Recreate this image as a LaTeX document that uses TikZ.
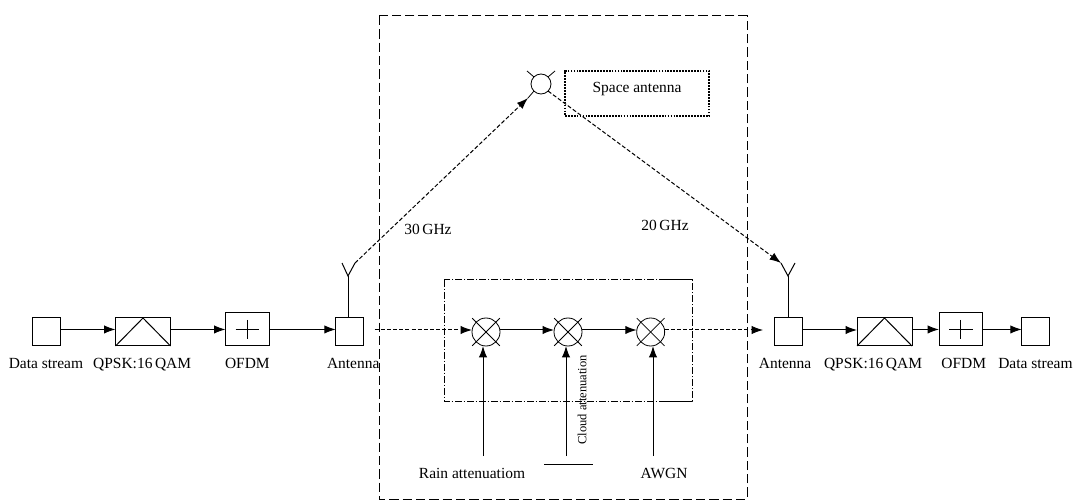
\documentclass[tikz,border=0pt]{standalone}
\usepackage{fontspec}
\setmainfont{Liberation Serif}
\usetikzlibrary{positioning,arrows.meta}

\tikzset{
  blockbox/.style={draw, line width=0.75pt, inner sep=0pt, outer sep=0pt, minimum width=#1, minimum height=21pt},
  blockbox/.default=21pt,
  ofdmbox/.style={draw, line width=0.75pt, inner sep=0pt, outer sep=0pt, minimum width=32.8pt, minimum height=24.8pt},
  mixer/.style={draw, circle, line width=0.6pt, inner sep=0pt, outer sep=0pt, minimum size=21pt},
  caption/.style={inner sep=0pt, font=\fontsize{11.6}{14}\selectfont, text height=8pt, text depth=2pt},
  sigline/.style={line width=0.75pt},
  dashline/.style={line width=0.75pt, dash pattern=on 3pt off 1.6pt},
  whisker/.style={line width=0.6pt, shorten <=-4.2pt, shorten >=-4.2pt}
}

\begin{document}
\begin{tikzpicture}[x=0.75pt, y=-0.75pt, >={Latex[length=8.5pt,width=6.2pt]}, node distance=40pt]
      \useasboundingbox (0,0) rectangle (1075,502);

      % left chain
      \node[blockbox] (streamL) at (46.5,332) {};
      \node[blockbox=41.25pt, right=41.25pt of streamL] (qpskL) {};
      \node[ofdmbox, right=41.25pt of qpskL.south east, anchor=south west] (ofdmL) {};
      \node[blockbox, right=49.9pt of ofdmL.south east, anchor=south west] (antL) {};

      % right chain
      \node[blockbox] (antR) at (788,332) {};
      \node[blockbox=41.25pt, right=41.25pt of antR] (qpskR) {};
      \node[ofdmbox, right=20.25pt of qpskR.south east, anchor=south west] (ofdmR) {};
      \node[blockbox, right=29.25pt of ofdmR.south east, anchor=south west] (streamR) {};

      % channel
      \node[mixer] (mixA) at (486,332) {};
      \node[mixer, right=40.5pt of mixA] (mixB) {};
      \node[mixer, right=41pt of mixB] (mixC) {};
      \node[draw, line width=0.9pt, dash pattern=on 1.3pt off 0.9pt, minimum width=108pt, minimum height=33.75pt, inner sep=0pt, outer sep=0pt] (spaceBox) at (637,93.5) {};
      \node[mixer, minimum size=15pt] (spaceAnt) at (541,84) {};

      % labels
      \node[caption, below=8.8pt of streamL, xshift=-0.4pt] (txtStreamL) {Data stream};
      \node[caption, below=8.8pt of qpskL, xshift=-0.6pt] (txtQpskL) {QPSK:16\,QAM};
      \node[caption, below=8.8pt of ofdmL] (txtOfdmL) {OFDM};
      \node[caption, below=8.8pt of antL, xshift=2.6pt] (txtAntL) {Antenna};
      \node[caption, below=8.8pt of antR, xshift=-2.2pt] (txtAntR) {Antenna};
      \node[caption, below=8.8pt of qpskR, xshift=-8.6pt] (txtQpskR) {QPSK:16\,QAM};
      \node[caption, below=8.8pt of ofdmR, xshift=2.2pt] (txtOfdmR) {OFDM};
      \node[caption, below=8.8pt of streamR, xshift=-0.2pt] (txtStreamR) {Data stream};
      \node[caption] (txtSpace) at (637,89) {Space antenna};
      \node[caption] (txtUp) at (428,231) {30\,GHz};
      \node[caption] (txtDown) at (665,227) {20\,GHz};
      \node[caption] (txtRain) at (472,474) {Rain attenuatiom};
      \node[caption] (txtAwgn) at (664,474) {AWGN};
      \node[inner sep=0pt, rotate=90, font=\fontsize{9.4}{11}\selectfont] (txtCloud) at (582,400) {Cloud attenuation};

      % outer frames
      \draw[line width=0.75pt, dash pattern=on 7pt off 3pt] (379,16) rectangle (747,499);
      \draw[line width=0.75pt, dash pattern=on 5pt off 1.5pt on 1pt off 1.5pt] (444,280) rectangle (692,401);
      \draw[line width=0.75pt] (665,280) -- (692,280);
      \draw[line width=0.75pt] (665,401) -- (692,401);

      % free ends
      \coordinate (yLroot) at (348,276);
      \coordinate (yLa) at (342,263);
      \coordinate (yLb) at (355,263);
      \coordinate (yRroot) at (788,276);
      \coordinate (yRa) at (781,263);
      \coordinate (yRb) at (795,263);
      \coordinate (tipUp) at (528,98);
      \coordinate (rainEnd) at (483,456);
      \coordinate (cloudEnd) at (566,456);
      \coordinate (awgnEnd) at (653,456);
      \coordinate (barA) at (544,464);
      \coordinate (barB) at (593,464);
      \coordinate (spaceA) at (527,71);
      \coordinate (spaceB) at (555,71);

      % block symbols
      \draw[sigline] (qpskL.south west) -- (qpskL.north) -- (qpskL.south east);
      \draw[sigline] (qpskR.south west) -- (qpskR.north) -- (qpskR.south east);
      \draw[sigline, shorten <=7.5pt, shorten >=7.5pt] (ofdmL.west) -- (ofdmL.east);
      \draw[sigline, shorten <=5.2pt, shorten >=5.2pt] (ofdmL.north) -- (ofdmL.south);
      \draw[sigline, shorten <=7.5pt, shorten >=7.5pt] (ofdmR.west) -- (ofdmR.east);
      \draw[sigline, shorten <=5.2pt, shorten >=5.2pt] (ofdmR.north) -- (ofdmR.south);
      \draw[whisker] (mixA.north west) -- (mixA.south east);
      \draw[whisker] (mixA.north east) -- (mixA.south west);
      \draw[whisker] (mixB.north west) -- (mixB.south east);
      \draw[whisker] (mixB.north east) -- (mixB.south west);
      \draw[whisker] (mixC.north west) -- (mixC.south east);
      \draw[whisker] (mixC.north east) -- (mixC.south west);
      \draw[line width=0.6pt] (spaceAnt.north west) -- (spaceA);
      \draw[line width=0.6pt] (spaceAnt.north east) -- (spaceB);

      % antennas
      \draw[sigline] (antL.north -| yLroot) -- (yLroot);
      \draw[sigline] (yLa) -- (yLroot) -- (yLb);
      \draw[sigline] (antR.north) -- (yRroot);
      \draw[sigline] (yRa) -- (yRroot) -- (yRb);

      % signal path
      \draw[sigline, ->] ([yshift=1.9pt]streamL.east) -- ([yshift=1.9pt]qpskL.west);
      \draw[sigline, ->] ([yshift=1.9pt]qpskL.east) -- (ofdmL.west);
      \draw[sigline, ->] (ofdmL.east) -- ([yshift=1.9pt]antL.west);
      \draw[dashline, ->, shorten <=8.2pt] ([yshift=1.5pt]antL.east) -- ([yshift=1.5pt]mixA.west);
      \draw[sigline, ->] ([yshift=1.5pt]mixA.east) -- ([yshift=1.5pt]mixB.west);
      \draw[sigline, ->] ([yshift=1.5pt]mixB.east) -- ([yshift=1.5pt]mixC.west);
      \draw[dashline, ->, shorten >=8.2pt] ([yshift=1.5pt]mixC.east) -- ([yshift=1.5pt]antR.west);
      \draw[sigline, ->] ([yshift=1.5pt]antR.east) -- ([yshift=1.5pt]qpskR.west);
      \draw[sigline, ->] ([yshift=1.9pt]qpskR.east) -- (ofdmR.west);
      \draw[sigline, ->] (ofdmR.east) -- ([yshift=1.9pt]streamR.west);

      % uplink and downlink
      \draw[dashline, ->] (yLb) -- (tipUp);
      \draw[line width=0.6pt] (tipUp) -- (spaceAnt.south west);
      \draw[dashline, ->] (spaceAnt.south east) -- (yRa);

      % attenuation inputs
      \draw[sigline, ->] (rainEnd) -- (rainEnd |- mixA.south);
      \draw[sigline, ->] (cloudEnd) -- (cloudEnd |- mixB.south);
      \draw[sigline, ->] (awgnEnd) -- (awgnEnd |- mixC.south);
      \draw[sigline] (barA) -- (barB);
    \end{tikzpicture}
\end{document}
